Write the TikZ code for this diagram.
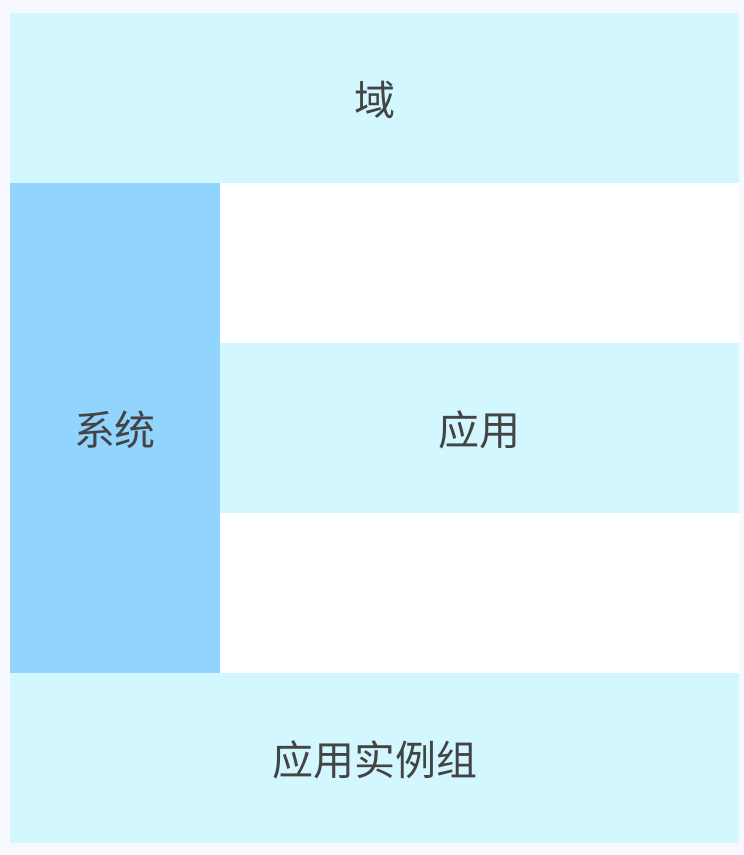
\documentclass[tikz,border=0pt]{standalone}
\usepackage{fontspec}
\usepackage{tikz}
\newfontfamily\cjk{Noto Sans CJK SC}
\definecolor{pagebg}{HTML}{F8F9FF}
\definecolor{lightcyan}{HTML}{D2F7FF}
\definecolor{skyblue}{HTML}{91D5FF}
\definecolor{labelgray}{HTML}{444444}

\begin{document}
\begin{tikzpicture}[x=1pt,y=-1pt,
                    band/.style={fill=lightcyan,draw=none},
                    label/.style={text=labelgray,font=\cjk\fontsize{41}{48}\selectfont}]
                \fill[pagebg] (0,0) rectangle (744,855);
                \useasboundingbox (0,0) rectangle (744,855);
                \fill[band] (10,13) rectangle (739,183);
                \fill[skyblue] (10,183) rectangle (220,673);
                \fill[white] (220,183) rectangle (739,343);
                \fill[band] (220,343) rectangle (739,513);
                \fill[white] (220,513) rectangle (739,673);
                \fill[band] (10,673) rectangle (739,843);
                \node[label] at (374.5,100)  (domain) {域};
                \node[label] at (115,430)  (system) {系统};
                \node[label] at (479.5,430)  (app) {应用};
                \node[label] at (374.5,760)  (group) {应用实例组};
            \end{tikzpicture}
\end{document}
